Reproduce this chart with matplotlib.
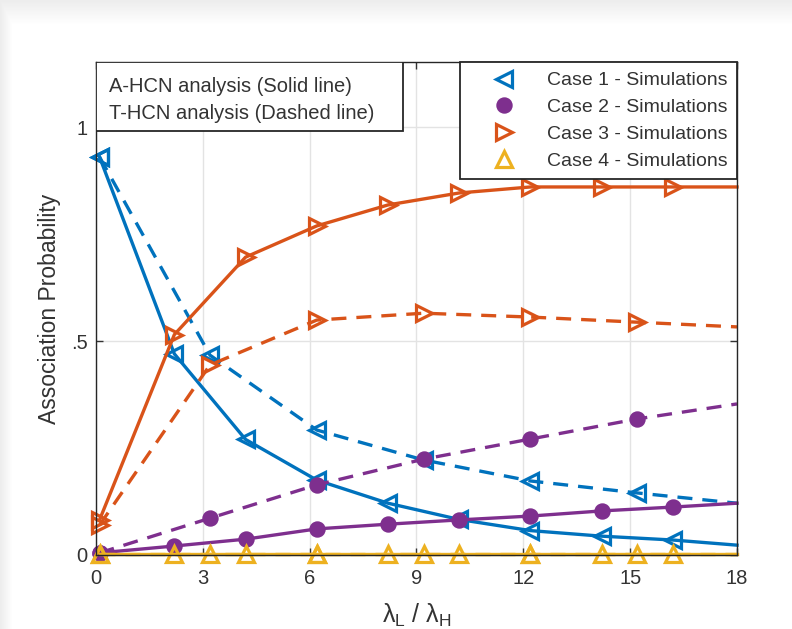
import numpy as np
import matplotlib
matplotlib.use("Agg")
import matplotlib.pyplot as plt
from matplotlib.lines import Line2D
from matplotlib.patches import Rectangle

plt.rcParams["font.family"] = ["Liberation Sans", "DejaVu Sans"]
plt.rcParams["mathtext.fontset"] = "custom"
plt.rcParams["mathtext.rm"] = "Liberation Sans"
plt.rcParams["mathtext.it"] = "Liberation Sans"

# --- Data ---
# A-HCN analysis (solid) sampled at these ratios, simulations at all but the last
x_solid = [0.1, 2.2, 4.2, 6.2, 8.2, 10.2, 12.2, 14.2, 16.2, 18]
case1_solid = [0.93, 0.47, 0.27, 0.175, 0.121, 0.083, 0.057, 0.044, 0.035, 0.023]
case2_solid = [0.005, 0.021, 0.037, 0.061, 0.072, 0.082, 0.091, 0.103, 0.112, 0.121]
case3_solid = [0.082, 0.515, 0.696, 0.769, 0.818, 0.846, 0.860, 0.860, 0.860, 0.860]
case4_solid = [0.003, 0.003, 0.003, 0.003, 0.003, 0.003, 0.003, 0.003, 0.003, 0.003]

# T-HCN analysis (dashed)
x_dash = [0.1, 3.2, 6.2, 9.2, 12.2, 15.2, 18]
case1_dash = [0.93, 0.467, 0.292, 0.222, 0.173, 0.145, 0.121]
case2_dash = [0.005, 0.086, 0.164, 0.224, 0.271, 0.318, 0.353]
case3_dash = [0.07, 0.444, 0.549, 0.565, 0.556, 0.544, 0.533]
case4_dash = [0.003, 0.003, 0.003, 0.003, 0.003, 0.003, 0.003]

case_labels = ["Case 1 - Simulations", "Case 2 - Simulations",
               "Case 3 - Simulations", "Case 4 - Simulations"]
colors = ["#0072BD", "#7E2F8E", "#D95319", "#EDB120"]
markers = ["<", "o", ">", "^"]
filled = [False, True, False, False]

fig = plt.figure(figsize=(7.92, 6.29), dpi=100)

# light grey screenshot border at the top and left
h, w = 629, 792
bg = np.ones((h, w, 3))
top = np.clip(np.arange(h) / 24.0, 0, 1)
left = np.clip(np.arange(w) / 12.0, 0, 1)
shade = 0.93 + 0.07 * np.minimum(top[:, None], left[None, :])
bg *= shade[:, :, None]
fig.figimage(bg, xo=0, yo=0, origin="upper", zorder=-10)
fig.patch.set_alpha(0)

ax = fig.add_axes([96 / 792, 1 - 555 / 629, 641 / 792, 493 / 629])
ax.set_facecolor("white")

solid_sets = [case1_solid, case2_solid, case3_solid, case4_solid]
dash_sets = [case1_dash, case2_dash, case3_dash, case4_dash]
for ys, yd, c, m, f in zip(solid_sets, dash_sets, colors, markers, filled):
    fc = c if f else "none"
    ms = 9.5 if f else 11.5
    ax.plot(x_dash, yd, color=c, lw=2.4, ls=(0, (4.5, 3)), marker=m, ms=ms,
            mfc=fc, mec=c, mew=2.3, markevery=list(range(len(x_dash) - 1)),
            clip_on=False)
    ax.plot(x_solid, ys, color=c, lw=2.4, marker=m, ms=ms,
            mfc=fc, mec=c, mew=2.3, markevery=list(range(len(x_solid) - 1)),
            clip_on=False)

ax.set_xlim(0, 18)
ax.set_ylim(0, 1.152)
ax.set_xticks([0, 3, 6, 9, 12, 15, 18])
ax.set_yticks([0, 0.5, 1])
ax.set_yticklabels(["0", ".5", "1"])
ax.tick_params(direction="in", length=5, width=1, labelsize=14.5,
               colors="#333333", top=True, right=True)
ax.tick_params(axis="x", pad=10)
ax.tick_params(axis="y", pad=6)
ax.grid(True, color="#e3e3e3", lw=1)
ax.set_axisbelow(True)
for s in ax.spines.values():
    s.set_color("#262626")
    s.set_linewidth(1)

ax.set_ylabel("Association Probability", fontsize=16.5, color="#333333", labelpad=7)
ax.set_xlabel(r"$\lambda_L\ /\ \lambda_H$", fontsize=18, color="#333333", labelpad=10)

# analysis-style note box
ax.add_patch(Rectangle((0, 0.860), 0.479, 0.140, transform=ax.transAxes,
                       facecolor="white", edgecolor="#262626", lw=1.3, zorder=5))
ax.text(0.02, 0.951, "A-HCN analysis (Solid line)", transform=ax.transAxes,
        fontsize=14.5, va="center", ha="left", color="#333333", zorder=6)
ax.text(0.02, 0.896, "T-HCN analysis (Dashed line)", transform=ax.transAxes,
        fontsize=14.5, va="center", ha="left", color="#333333", zorder=6)

handles = [Line2D([], [], ls="none", marker=m, ms=(9.5 if f else 11.5), color=c,
                  mfc=(c if f else "none"), mew=2.3)
           for c, m, f in zip(colors, markers, filled)]
leg = ax.legend(handles, case_labels, loc="upper right", bbox_to_anchor=(1, 1),
                borderaxespad=0, fontsize=14, frameon=True, fancybox=False,
                framealpha=1, edgecolor="#262626", labelspacing=0.47,
                handletextpad=0.45, handlelength=3.5, borderpad=0.5,
                labelcolor="#333333")
leg.get_frame().set_linewidth(1.3)
leg.set_zorder(7)

fig.savefig("out.png", dpi=100)
